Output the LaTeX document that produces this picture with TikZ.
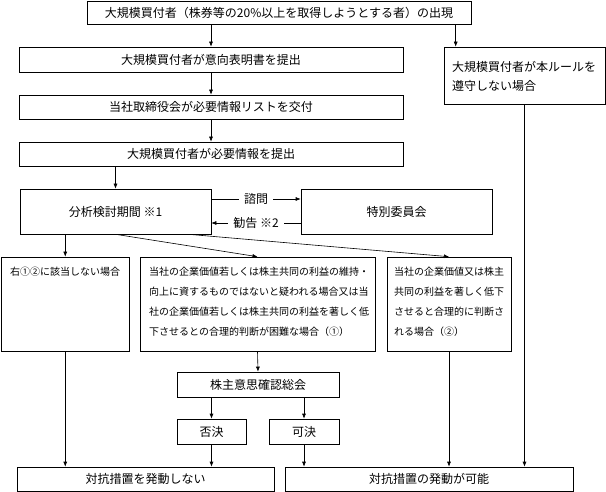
\documentclass[tikz,border=0pt]{standalone}
\usepackage{fontspec}
\setmainfont{Noto Sans CJK JP}
\usetikzlibrary{arrows.meta,calc}
\begin{document}
\begin{tikzpicture}[x=1pt,y=-1pt,
  box/.style={draw, line width=0.6pt, inner sep=0pt, font=\fontsize{12}{14}\selectfont},
  casetxt/.style={anchor=north west, align=left, inner sep=0pt, font=\fontsize{10}{20}\selectfont},
  bigtxt/.style={anchor=north west, align=left, inner sep=0pt, font=\fontsize{12}{19}\selectfont},
  arr/.style={-{Latex[length=5pt,width=4pt]}, line width=0.6pt},
  lbl/.style={fill=white, inner xsep=5pt, inner ysep=2pt, font=\fontsize{12}{14}\selectfont}
]
\useasboundingbox (0,0) rectangle (606,492);
% main column
\node[box, minimum width=384pt, minimum height=23pt] (top) at (279,12.5) {大規模買付者（株券等の20\%以上を取得しようとする者）の出現};
\node[box, minimum width=384pt, minimum height=25pt] (b2) at (211,59.5) {大規模買付者が意向表明書を提出};
\node[box, minimum width=384pt, minimum height=24pt] (b3) at (211,107) {当社取締役会が必要情報リストを交付};
\node[box, minimum width=384pt, minimum height=24pt] (b4) at (211,154) {大規模買付者が必要情報を提出};
% right box
\node[box, minimum width=161pt, minimum height=57pt] (rb) at (524.5,75.5) {};
\node[bigtxt] (rbt) at (452,61) {大規模買付者が本ルールを\\遵守しない場合};
% analysis and committee
\node[box, minimum width=191pt, minimum height=45pt] (an) at (115.5,211.5) {分析検討期間 ※1};
\node[box, minimum width=191pt, minimum height=45pt] (sc) at (396.5,211.5) {特別委員会};
% case boxes
\node[box, minimum width=128.5pt, minimum height=94pt] (A) at (65.25,304) {};
\node[casetxt] (At) at (10,267) {右①②に該当しない場合};
\node[box, minimum width=235pt, minimum height=94pt] (B) at (257.5,304) {};
\node[casetxt] (Bt) at (149,267) {当社の企業価値若しくは株主共同の利益の維持・\\向上に資するものではないと疑われる場合又は当\\社の企業価値若しくは株主共同の利益を著しく低\\下させるとの合理的判断が困難な場合（①）};
\node[box, minimum width=124pt, minimum height=94pt] (C) at (449,304) {};
\node[casetxt] (Ct) at (394,267) {当社の企業価値又は株主\\共同の利益を著しく低下\\させると合理的に判断さ\\れる場合（②）};
% meeting
\node[box, minimum width=162pt, minimum height=25pt] (kk) at (258,384.5) {株主意思確認総会};
\node[box, minimum width=69pt, minimum height=25pt] (hk) at (211.5,431.5) {否決};
\node[box, minimum width=70pt, minimum height=25pt] (ka) at (304,431.5) {可決};
% finals
\node[box, minimum width=257pt, minimum height=24pt] (fl) at (145.5,479) {対抗措置を発動しない};
\node[box, minimum width=288pt, minimum height=24pt] (fr) at (429,479) {対抗措置の発動が可能};
% connectors
\draw[arr] (b2.north |- top.south) -- (b2.north);
\coordinate (rbin) at ($(rb.north west)+(12,0)$);
\draw[arr] (rbin |- top.south) -- (rbin);
\draw[arr] (b2) -- (b3);
\draw[arr] (b3) -- (b4);
\draw[arr] (an.north |- b4.south) -- (an.north);
\coordinate (q1) at (0,199);
\coordinate (q2) at (0,223);
\draw[arr] (an.east |- q1) -- node[lbl] (lq) {諮問} (sc.west |- q1);
\draw[arr] (sc.west |- q2) -- node[lbl] (lk) {勧告 ※2} (an.east |- q2);
\draw[arr] (A.north |- an.south) -- (A.north);
\draw[arr] (an.south) -- (B.north);
\coordinate (an2) at ($(an.south east)+(-23,0)$);
\draw[arr] (an2) -- (C.north);
\draw[arr] (A.south) -- (A.south |- fl.north);
\draw[arr] (B.south) -- (kk.north);
\draw[arr] (hk.north |- kk.south) -- (hk.north);
\draw[arr] (ka.north |- kk.south) -- (ka.north);
\draw[arr] (hk.south) -- (hk.south |- fl.north);
\draw[arr] (ka.south) -- (ka.south |- fr.north);
\draw[arr] (C.south) -- (C.south |- fr.north);
\draw[arr] (rb.south) -- (rb.south |- fr.north);
\end{tikzpicture}
\end{document}
